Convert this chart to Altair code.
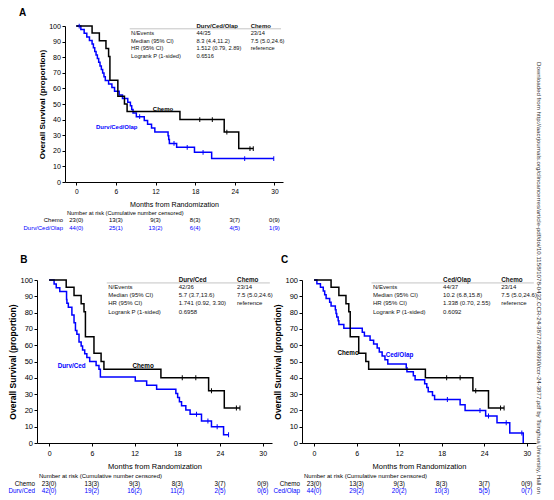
import altair as alt
import pandas as pd

BLACK = "#000000"
BLUE = "#0000ff"

# ---------------- data ----------------
risk_months = [0, 6, 12, 18, 24, 30]
surv_ticks = [0, 10, 20, 30, 40, 50, 60, 70, 80, 90, 100]
stat_rows = ["N/Events", "Median (95% CI)", "HR (95% CI)", "Logrank P (1-sided)"]
chemo_stats = ["23/14", "7.5 (5.0,24.6)", "reference", ""]
chemo_risk = ["23(0)", "13(3)", "9(3)", "8(3)", "3(7)", "0(9)"]

# Chemo arm (same reference arm in all three panels)
chemo_time = [0, 2.4, 3.5, 4.5, 4.9, 5.1, 6.3, 7.3, 7.7, 15.7, 22.4, 24.6, 26.8]
chemo_surv = [100, 95.5, 90.5, 85.5, 80.5, 65.2, 55.0, 50.0, 45.2, 40.0, 32.0, 21.4, 21.4]
chemo_cens_time = [18.7, 20.6, 22.8, 26.3, 26.8]
chemo_cens_surv = [40.0, 40.0, 32.0, 21.4, 21.4]

# Panel A: Durv/Ced/Olap
a_name = "Durv/Ced/Olap"
a_time = [0, 0.7, 1.2, 1.6, 2.0, 2.4, 2.6, 2.8, 3.0, 3.2, 3.4, 3.6, 3.8, 4.0, 4.2, 4.4,
          4.9, 5.4, 5.8, 6.5, 7.0, 7.8, 8.2, 8.4, 8.6, 9.1, 10.3, 10.8, 11.4, 11.9,
          13.9, 14.0, 14.1, 15.2, 17.9, 20.5, 29.9]
a_surv = [100, 97.7, 95.3, 93.0, 90.7, 88.4, 86.0, 83.7, 81.4, 79.1, 76.7, 74.4, 72.1, 69.8, 67.4, 65.1,
          62.8, 60.5, 58.1, 55.8, 53.5, 51.2, 48.8, 46.5, 44.2, 41.9, 39.5, 37.0, 34.6, 32.1,
          29.6, 27.2, 24.7, 22.2, 19.0, 15.0, 15.0]
a_cens_time = [0.45, 9.6, 14.8, 16.8, 19.2, 25.5, 29.9]
a_cens_surv = [100, 41.9, 24.7, 22.2, 19.0, 15.0, 15.0]
a_stats = ["44/35", "8.3 (4.4,11.2)", "1.512 (0.79, 2.89)", "0.6516"]
a_risk = ["44(0)", "25(1)", "13(2)", "6(4)", "4(5)", "1(9)"]

# Panel B: Durv/Ced
b_name = "Durv/Ced"
b_time = [0, 0.7, 1.0, 1.5, 2.45, 2.5, 2.7, 3.2, 3.5, 3.7, 3.9, 4.2, 4.5, 4.7, 5.0, 5.3, 5.7,
          6.6, 7.0, 7.2, 12.1, 13.7, 15.1, 17.8, 18.05, 18.3, 18.6, 19.2, 19.8, 21.4, 22.8,
          24.5, 25.2]
b_surv = [100, 97.6, 95.2, 92.9, 88.1, 85.7, 83.3, 78.6, 73.8, 69.0, 66.7, 61.9, 59.5, 57.1, 54.8, 52.4, 50.0,
          47.6, 45.2, 40.5, 38.0, 35.5, 33.0, 30.4, 27.9, 25.3, 22.8, 20.2, 17.7, 13.5, 10.0,
          5.0, 5.0]
b_cens_time = [20.7, 22.3, 23.6, 25.2]
b_cens_surv = [17.7, 13.5, 10.0, 5.0]
b_stats = ["42/36", "5.7 (3.7,13.6)", "1.741 (0.92, 3.30)", "0.6958"]
b_risk = ["42(0)", "19(2)", "16(2)", "11(2)", "2(5)", "0(6)"]

# Panel C: Ced/Olap
c_name = "Ced/Olap"
c_time = [0, 0.4, 0.9, 1.3, 1.5, 1.7, 2.2, 2.4, 3.0, 3.1, 3.2, 3.4, 3.5, 4.2,
          6.8, 7.1, 7.9, 8.4, 8.9, 9.2, 9.6, 10.0, 10.4,
          13.0, 13.1, 14.0, 14.25, 15.6, 15.9, 16.1, 16.7, 17.0,
          20.6, 21.3, 24.2, 25.8, 27.6, 29.5]
c_surv = [100, 97.7, 95.5, 93.2, 90.9, 88.6, 86.4, 84.1, 81.8, 79.5, 77.3, 75.0, 72.7, 70.4,
          68.0, 65.6, 63.1, 60.7, 58.3, 55.8, 53.4, 51.0, 48.5,
          46.1, 43.7, 41.2, 38.8, 36.4, 34.0, 31.5, 29.1, 26.7,
          23.4, 20.0, 16.6, 12.5, 6.2, 0.0]
c_cens_time = [18.8, 23.4, 24.6, 27.1, 29.3]
c_cens_surv = [26.7, 20.0, 16.6, 12.5, 6.2]
c_stats = ["44/37", "10.2 (6.8,15.8)", "1.338 (0.70, 2.55)", "0.6092"]
c_risk = ["44(0)", "29(2)", "20(2)", "10(3)", "5(5)", "0(7)"]

watermark = ("Downloaded from http://aacrjournals.org/clincancerres/article-pdf/doi/10.1158/"
             "1078-0432.CCR-24-3877/3488990/ccr-24-3877.pdf by Tsinghua University, Hall on")

# ---------------- layout constants ----------------
STAT_X = [8.3, 18.2, 26.4]
STAT_Y = [95.5, 90.6, 85.6, 80.6]
HEAD_Y = 100
XDOM = [-1.7, 31.3]


def panel(letter, name, t, s, ct, cs, stats, risk, W, H, x0, sc,
          chemo_lab, arm_lab, letter_pos, mark_text=False):
    f = lambda v: round(v * sc, 2)
    xs = alt.Scale(domain=XDOM, range=[x0, W], nice=False, zero=False)
    ys = alt.Scale(domain=[0, 100], nice=False)
    xaxis = alt.Axis(values=risk_months, title="Months from Randomization", grid=False,
                     labelFontSize=f(7), titleFontSize=f(7.5), titleFontWeight="normal",
                     tickSize=3, labelPadding=f(3.5), titlePadding=f(5.5), labelOverlap=False,
                     domainColor=BLACK, tickColor=BLACK, labelColor=BLACK, titleColor=BLACK)
    yaxis = alt.Axis(values=surv_ticks, title="Overall Survival (proportion)",
                     grid=False, offset=-x0, labelFontSize=f(7.5), titleFontSize=f(8.5),
                     titleFontWeight="bold", tickSize=3, labelPadding=1.5, titlePadding=2,
                     labelOverlap=False, labelBound=False, labelFlush=False,
                     domainColor=BLACK, tickColor=BLACK, labelColor=BLACK, titleColor=BLACK)

    X = lambda fld: alt.X(fld, scale=xs, axis=xaxis)
    Y = lambda fld: alt.Y(fld, scale=ys, axis=yaxis)

    arm_df = pd.DataFrame({"t": t, "s": s})
    chemo_df = pd.DataFrame({"t": chemo_time, "s": chemo_surv})
    arm_c = pd.DataFrame({"t": ct, "s": cs})
    chemo_c = pd.DataFrame({"t": chemo_cens_time, "s": chemo_cens_surv})

    layers = []
    layers.append(alt.Chart(arm_df).mark_line(interpolate="step-after", color=BLUE, strokeWidth=1.5)
                  .encode(x=X("t:Q"), y=Y("s:Q")))
    layers.append(alt.Chart(chemo_df).mark_line(interpolate="step-after", color=BLACK, strokeWidth=1.5)
                  .encode(x=X("t:Q"), y=Y("s:Q")))
    for dfc, col in ((arm_c, BLUE), (chemo_c, BLACK)):
        layers.append(alt.Chart(dfc).mark_tick(orient="vertical", size=f(5), thickness=1, color=col, opacity=1)
                      .encode(x=X("t:Q"), y=Y("s:Q")))

    # stats inset
    st_df = pd.DataFrame({
        "t": [STAT_X[0]] * 4 + [STAT_X[1]] * 4 + [STAT_X[2]] * 4,
        "s": STAT_Y * 3,
        "txt": stat_rows + stats + chemo_stats,
    })
    layers.append(alt.Chart(st_df).mark_text(align="left", baseline="middle", fontSize=f(6.0), color="#111111")
                  .encode(x=X("t:Q"), y=Y("s:Q"), text="txt:N"))
    hd_df = pd.DataFrame({"t": STAT_X[1:], "s": [HEAD_Y, HEAD_Y], "txt": [name, "Chemo"]})
    layers.append(alt.Chart(hd_df).mark_text(align="left", baseline="middle", fontSize=f(6.3),
                                             fontWeight="bold", color="#111111")
                  .encode(x=X("t:Q"), y=Y("s:Q"), text="txt:N"))
    rl_df = pd.DataFrame({"t": [8.1], "t2": [31.0], "s": [98.2]})
    layers.append(alt.Chart(rl_df).mark_rule(color="#b5b5b5", strokeWidth=0.8)
                  .encode(x=X("t:Q"), x2="t2:Q", y=Y("s:Q")))

    # curve labels
    lab_df = pd.DataFrame({"t": [chemo_lab[0]], "s": [chemo_lab[1]], "txt": ["Chemo"]})
    layers.append(alt.Chart(lab_df).mark_text(align="left", baseline="middle", fontSize=f(6.3),
                                              fontWeight="bold", color=BLACK)
                  .encode(x=X("t:Q"), y=Y("s:Q"), text="txt:N"))
    lab2_df = pd.DataFrame({"t": [arm_lab[0]], "s": [arm_lab[1]], "txt": [name]})
    layers.append(alt.Chart(lab2_df).mark_text(align="left", baseline="middle", fontSize=f(6.3),
                                               fontWeight="bold", color=BLUE)
                  .encode(x=X("t:Q"), y=Y("s:Q"), text="txt:N"))

    # number at risk table
    layers.append(alt.Chart(pd.DataFrame({"txt": ["Number at risk (Cumulative number censored)"]}))
                  .mark_text(align="left", baseline="middle", fontSize=f(6), color=BLACK)
                  .encode(x=alt.value(x0 + 2), y=alt.value(H + f(32.5)), text="txt:N"))
    for row_name, vals, col, dy in (("Chemo", chemo_risk, BLACK, 40.5), (name, risk, BLUE, 48.3)):
        rdf = pd.DataFrame({"t": risk_months, "txt": vals})
        layers.append(alt.Chart(rdf).mark_text(align="center", baseline="middle", fontSize=f(6.3), color=col)
                      .encode(x=X("t:Q"), y=alt.value(H + f(dy)), text="txt:N"))
        layers.append(alt.Chart(pd.DataFrame({"txt": [row_name]}))
                      .mark_text(align="right", baseline="middle", fontSize=f(6.3), color=col)
                      .encode(x=alt.value(x0 - 2), y=alt.value(H + f(dy)), text="txt:N"))

    # panel letter
    layers.append(alt.Chart(pd.DataFrame({"txt": [letter]}))
                  .mark_text(align="left", baseline="middle", fontSize=10, fontWeight="bold", color=BLACK)
                  .encode(x=alt.value(x0 + letter_pos[0]), y=alt.value(letter_pos[1]), text="txt:N"))

    if mark_text:
        layers.append(alt.Chart(pd.DataFrame({"txt": [watermark]}))
                      .mark_text(align="left", baseline="middle", angle=90, fontSize=6.1, color="#333333")
                      .encode(x=alt.value(W + 3), y=alt.value(-218), text="txt:N"))

    return alt.layer(*layers).properties(width=W, height=H)


A = panel("A", a_name, a_time, a_surv, a_cens_time, a_cens_surv, a_stats, a_risk,
          W=246, H=156, x0=28, sc=0.95, chemo_lab=(11.6, 47), arm_lab=(3.0, 35),
          letter_pos=(-46, -13))
B = panel("B", b_name, b_time, b_surv, b_cens_time, b_cens_surv, b_stats, b_risk,
          W=235, H=163, x0=0, sc=1.0, chemo_lab=(11.7, 47), arm_lab=(1.2, 47),
          letter_pos=(-16.7, -20))
C = panel("C", c_name, c_time, c_surv, c_cens_time, c_cens_surv, c_stats, c_risk,
          W=234, H=163, x0=0, sc=1.0, chemo_lab=(3.3, 55.5), arm_lab=(10.1, 54),
          letter_pos=(-21, -20), mark_text=True)

bottom = alt.hconcat(B, C, spacing=30, bounds="flush")
chart = alt.vconcat(A, bottom, spacing=98, bounds="flush").properties(padding=0)
chart = chart.configure(font="Liberation Sans").configure_view(stroke=None)

chart.save("out.html", embed_options={"renderer": "svg", "actions": False})
